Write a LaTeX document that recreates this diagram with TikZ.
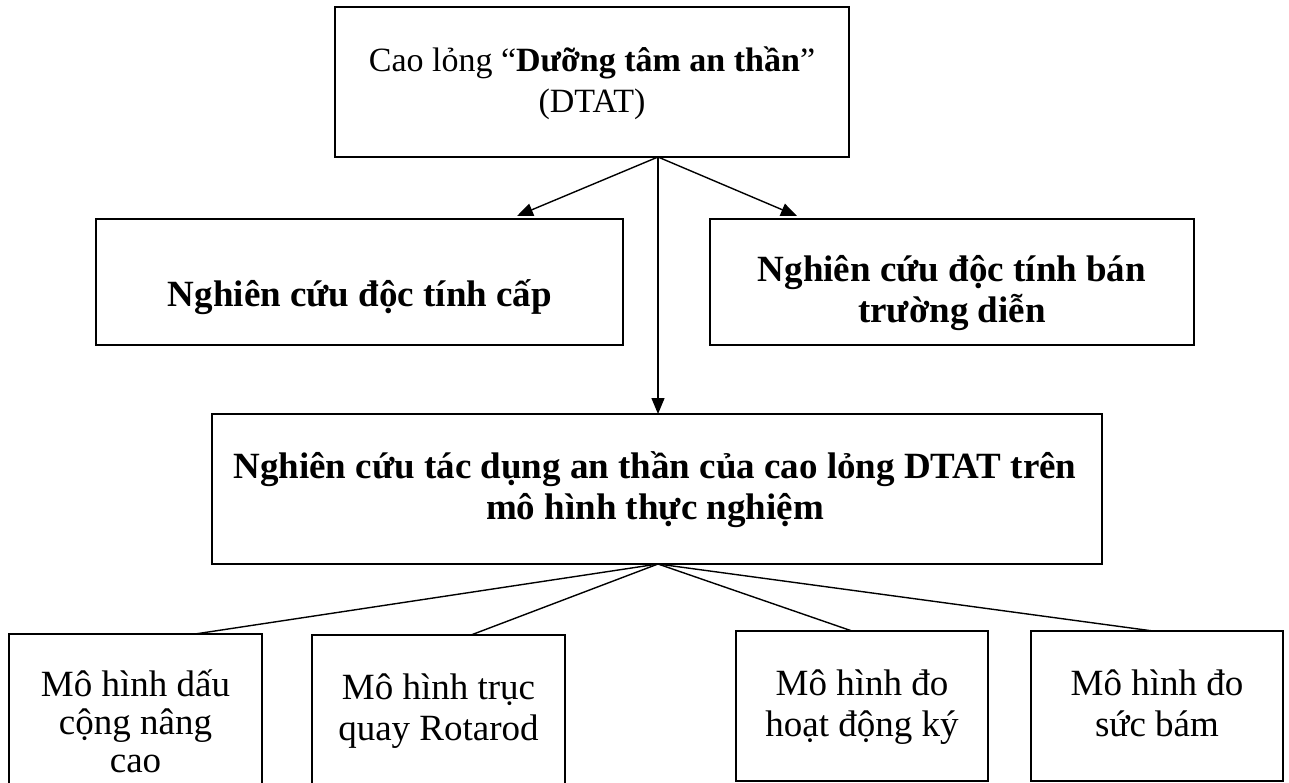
\documentclass[tikz,border=0pt]{standalone}
\usepackage{fontspec}
\setmainfont{Liberation Serif}
\usetikzlibrary{arrows.meta,calc}
\begin{document}
\begin{tikzpicture}[x=1pt,y=-1pt,
  box/.style={draw,line width=1.8pt,inner sep=0pt,outer sep=0pt},
  conn/.style={line width=1.4pt},
  arr/.style={conn,-{Triangle[width=13pt,length=16pt]}},
  lbl/.style={align=flush center,inner sep=0pt,anchor=base,text width=1000pt,
    font=\fontsize{37}{41}\selectfont},
  blbl/.style={lbl,font=\fontsize{37}{41}\selectfont\bfseries},
  tlbl/.style={lbl,font=\fontsize{34}{41}\selectfont}]
\useasboundingbox[fill=white] (0,0) rectangle (1289,783);
% boxes
\node[box,minimum width=514pt,minimum height=150pt] (top) at (592,82) {};
\node[box,minimum width=527pt,minimum height=126pt] (left) at (359.5,282) {};
\node[box,minimum width=484pt,minimum height=126pt] (right) at (952,282) {};
\node[box,minimum width=890pt,minimum height=150pt] (mid) at (657,489) {};
\node[box,minimum width=253pt,minimum height=166pt] (b1) at (135.5,717) {};
\node[box,minimum width=253pt,minimum height=165pt] (b2) at (438.5,717.5) {};
\node[box,minimum width=252pt,minimum height=150pt] (b3) at (862,706) {};
\node[box,minimum width=252pt,minimum height=150pt] (b4) at (1157,706) {};
% texts
\node[tlbl] (ttop) at (592,72) {Cao lỏng “\textbf{Dưỡng tâm an thần}”\\(DTAT)};
\node[blbl] (tleft) at (360,306) {Nghiên cứu độc tính cấp};
\node[blbl] (tright) at (952,282) {Nghiên cứu độc tính bán\\trường diễn};
\node[blbl] (tmid) at (655,478) {Nghiên cứu tác dụng an thần của cao lỏng DTAT trên\\mô hình thực nghiệm};
\node[lbl,font=\fontsize{37}{38}\selectfont] (tb1) at (135.5,696) {Mô hình dấu\\cộng nâng\\cao};
\node[lbl] (tb2) at (438.5,699) {Mô hình trục\\quay Rotarod};
\node[lbl] (tb3) at (862,695) {Mô hình đo\\hoạt động ký};
\node[lbl] (tb4) at (1157,695) {Mô hình đo\\sức bám};
% arrows
\coordinate (src) at (top.south -| 658,0);
\draw[arr] (src) -- ($(left.north -| 517,0)+(0,-3)$);
\draw[arr] (src) -- ($(right.north -| 797,0)+(0,-3)$);
\draw[arr] (src) -- (mid.north -| 658,0);
% lines to bottom boxes
\coordinate (hub) at (mid.south -| 658,0);
\draw[conn] (hub) -- (b1.north -| 195,0);
\draw[conn] (hub) -- (b2.north -| 471,0);
\draw[conn] (hub) -- (b3.north -| 852,0);
\draw[conn] (hub) -- (b4.north -| 1153,0);
\end{tikzpicture}
\end{document}
